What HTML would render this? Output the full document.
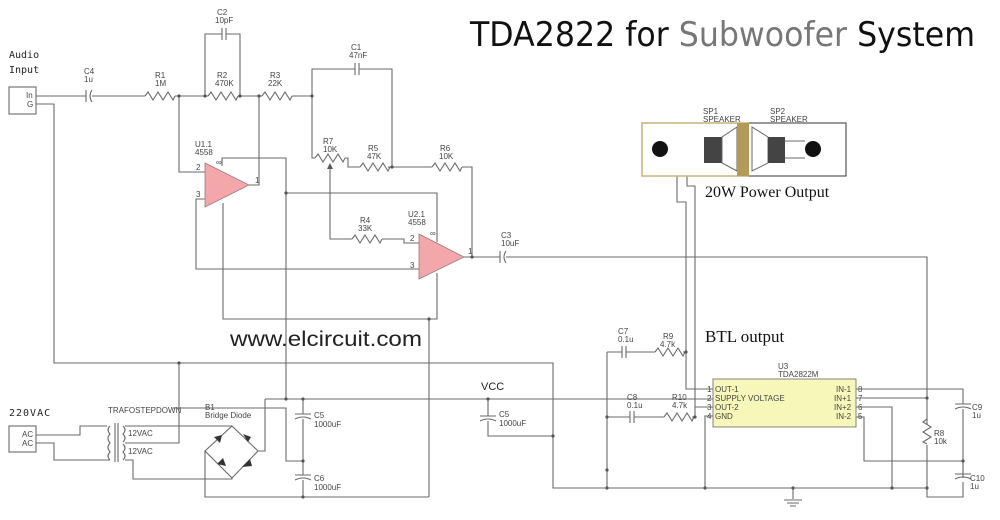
<!DOCTYPE html>
<html><head><meta charset="utf-8"><style>
html,body{margin:0;padding:0;background:#fff;width:1000px;height:520px;overflow:hidden}
svg{display:block}
.w{fill:none;stroke:#6a6a6a;stroke-width:1.1}
.t{font-family:"Liberation Sans",sans-serif;font-size:8px;fill:#444}
.d{fill:#555}
</style></head><body>
<svg width="1000" height="520" viewBox="0 0 1000 520" xmlns="http://www.w3.org/2000/svg">
<defs>
<path id="res" d="M0 0 l3 -4 l5 8 l5 -8 l5 8 l5 -8 l5 8 l2 -4" class="w"/>
<path id="resv" d="M0 0 l-4 3 l8 5 l-8 5 l8 5 l-8 5 l4 2" class="w"/>
<path id="capH" d="M0 -6 v12 M4 -6 v12" class="w"/>
<path id="capE" d="M0 -6 v12 M6 -6 q-4 6 0 12" class="w"/>
<path id="capV" d="M-8 0 h16 M-8 5 q8 -4 16 0" class="w"/>
</defs>

<!-- Title -->
<text x="470" y="46" font-family="'DejaVu Sans','Liberation Sans',sans-serif" font-size="34" textLength="505" lengthAdjust="spacingAndGlyphs" fill="#111">TDA2822 for <tspan fill="#777">Subwoofer</tspan> System</text>

<!-- Input -->
<text x="9" y="58" font-family="'DejaVu Sans Mono','Liberation Mono',monospace" font-size="10" fill="#222">Audio</text>
<text x="9" y="73" font-family="'DejaVu Sans Mono','Liberation Mono',monospace" font-size="10" fill="#222">Input</text>
<rect x="9" y="87" width="27" height="27" class="w"/>
<text x="26" y="98" class="t" font-size="7">In</text>
<text x="27" y="107" class="t" font-size="7">G</text>

<path class="w" d="M36 96 H86 M92 96 H145 M175 96 H208 M238 96 H262 M292 96 H312"/>
<use href="#capE" x="86" y="96"/>
<text x="84" y="74" class="t">C4</text><text x="84" y="82" class="t">1u</text>
<use href="#res" x="145" y="96"/>
<text x="155" y="78" class="t">R1</text><text x="155" y="86" class="t">1M</text>
<use href="#res" x="208" y="96"/>
<text x="217" y="78" class="t">R2</text><text x="215" y="86" class="t">470K</text>
<use href="#res" x="262" y="96"/>
<text x="270" y="78" class="t">R3</text><text x="268" y="86" class="t">22K</text>
<!-- C2 -->
<path class="w" d="M205 96 V34 H222 M226 34 H240 V96"/>
<use href="#capH" x="222" y="34"/>
<text x="217" y="15" class="t">C2</text><text x="215" y="23" class="t">10pF</text>
<!-- C1 -->
<path class="w" d="M312 96 V69 H355 M359 69 H392 V167"/>
<use href="#capH" x="355" y="69"/>
<text x="351" y="50" class="t">C1</text><text x="349" y="58" class="t">47nF</text>
<!-- R7 R5 R6 -->
<path class="w" d="M312 96 V158 H315 M345 158 H348 V167 H360 M388 167 H432 M462 167 H472 V257"/>
<use href="#res" x="315" y="158"/>
<text x="323" y="144" class="t">R7</text><text x="323" y="152" class="t">10K</text>
<use href="#res" x="360" y="167"/>
<text x="368" y="151" class="t">R5</text><text x="367" y="159" class="t">47K</text>
<use href="#res" x="432" y="167"/>
<text x="440" y="151" class="t">R6</text><text x="439" y="159" class="t">10K</text>
<path d="M330 163 l-3 6 h6 z" class="d"/>
<path class="w" d="M330 167 V239 H352 M382 239 H404 V243 H419"/>
<use href="#res" x="352" y="239"/>
<text x="360" y="223" class="t">R4</text><text x="358" y="231" class="t">33K</text>

<!-- U1 -->
<path class="w" d="M179 96 V172 H205 M205 199 H196 V269 H419 M249 185 H259 V96 M222 166 V158 H286 V399 M286 193 H437 V242 M223 203 V319 H437 V273 M429 319 V497"/>
<path d="M205 163 L249 185 L205 207 Z" fill="#f4a7aa" stroke="#9a7a7a" stroke-width="0.8"/>
<text x="195" y="147" class="t">U1.1</text><text x="195" y="155" class="t">4558</text>
<text x="196" y="170" class="t">2</text><text x="196" y="197" class="t">3</text><text x="255" y="183" class="t">1</text>
<text x="216" y="165" class="t" font-size="6">∞</text>
<!-- U2 -->
<path d="M419 234 L464 257 L419 279 Z" fill="#f4a7aa" stroke="#9a7a7a" stroke-width="0.8"/>
<text x="408" y="217" class="t">U2.1</text><text x="408" y="225" class="t">4558</text>
<text x="410" y="241" class="t">2</text><text x="410" y="268" class="t">3</text><text x="468" y="254" class="t">1</text>
<text x="430" y="236" class="t" font-size="6">∞</text>
<path class="w" d="M464 257 H500 M506 257 H927 V425 M927 445 V497 H963 V482 M963 478 V465"/>
<use href="#capE" x="500" y="257"/>
<text x="501" y="238" class="t">C3</text><text x="501" y="246" class="t">10uF</text>

<!-- ground / bus -->
<path class="w" d="M36 104 H54 V363 H553 V488 H927 M793 488 V499"/>
<path class="w" d="M784 500 h18 M787 503 h12 M790 506 h6"/>

<text x="230" y="346" font-family="'Liberation Sans',sans-serif" font-size="21" fill="#222" textLength="192" lengthAdjust="spacingAndGlyphs">www.elcircuit.com</text>

<!-- Power -->
<text x="9" y="416" font-family="'DejaVu Sans Mono','Liberation Mono',monospace" font-size="10" fill="#222" letter-spacing="1">220VAC</text>
<rect x="9" y="426" width="27" height="26" class="w"/>
<text x="22" y="437" class="t">AC</text><text x="22" y="446" class="t">AC</text>
<path class="w" d="M36 435 H80 V426 H107 M36 443 H54 V460 H110"/>
<path class="w" d="M110 426 q-4 4 0 8 q-4 4 0 9 q-4 4 0 9 q-4 4 0 8 M115 423 V462 M118 423 V462 M123 426 q4 4 0 8 q4 4 0 8 M123 444 q4 4 0 8 q4 4 0 8"/>
<text x="108" y="413" class="t">TRAFOSTEPDOWN</text>
<text x="128" y="436" class="t" font-size="5">12VAC</text><text x="128" y="454" class="t" font-size="5">12VAC</text>
<path class="w" d="M125 426 H232 M125 443 H179 V363 M125 460 H133 V479 H232 V478"/>
<path class="w" d="M232 426 L258 451 L232 478 L205 451 Z M258 451 H265 V399 M205 451 V497 H429 M173 408 H286 V461 H303"/>
<path d="M214 437 l8 -2 l-2 8 z M243 434 l8 3 l-3 5 z M217 464 l6 -6 l3 8 z M242 467 l8 -8 l2 7 z" fill="#333"/>
<text x="205" y="410" class="t">B1</text><text x="205" y="418" class="t">Bridge Diode</text>
<path class="w" d="M265 399 H713 M303 399 V414 M303 419 V475 M303 480 V497"/>
<use href="#capV" x="303" y="414"/><use href="#capV" x="303" y="475"/>
<text x="314" y="418" class="t">C5</text><text x="314" y="427" class="t">1000uF</text>
<text x="314" y="481" class="t">C6</text><text x="314" y="490" class="t">1000uF</text>
<text x="481" y="390" font-family="'Liberation Sans',sans-serif" font-size="11" fill="#222">VCC</text>
<path class="w" d="M488 399 V416 M488 421 V436 H553"/>
<use href="#capV" x="488" y="416"/>
<text x="499" y="417" class="t">C5</text><text x="499" y="426" class="t">1000uF</text>

<!-- U3 area -->
<path class="w" d="M607 352 V488 M607 352 H622 M626 352 H655 M683 352 H686 M713 389 H686 V202 H677 V141 H705 M713 407 H695 V186 H687 V159 H705 M607 417 H630 M634 417 H664 M692 417 H695 V407 M713 416 H705 V488"/>
<use href="#capH" x="622" y="352"/><use href="#capH" x="630" y="417"/>
<use href="#res" x="655" y="352"/><use href="#res" x="664" y="417"/>
<text x="618" y="334" class="t">C7</text><text x="618" y="342" class="t">0.1u</text>
<text x="663" y="339" class="t">R9</text><text x="660" y="347" class="t">4.7k</text>
<text x="627" y="400" class="t">C8</text><text x="627" y="408" class="t">0.1u</text>
<text x="672" y="400" class="t">R10</text><text x="672" y="408" class="t">4.7k</text>
<rect x="713" y="379" width="143" height="48" fill="#f6f7b8" stroke="#777" stroke-width="0.9"/>
<text x="778" y="369" class="t">U3</text><text x="778" y="377" class="t">TDA2822M</text>
<text x="715" y="392" class="t" fill="#999">OUT-1</text>
<text x="715" y="401" class="t" fill="#777">SUPPLY VOLTAGE</text>
<text x="715" y="410" class="t" fill="#999">OUT-2</text>
<text x="715" y="419" class="t">GND</text>
<text x="836" y="392" class="t" fill="#888">IN-1</text><text x="834" y="401" class="t" fill="#888">IN+1</text>
<text x="834" y="410" class="t" fill="#888">IN+2</text><text x="836" y="419" class="t" fill="#888">IN-2</text>
<text x="707" y="392" class="t">1</text><text x="707" y="401" class="t">2</text><text x="707" y="410" class="t">3</text><text x="707" y="419" class="t">4</text>
<text x="858" y="392" class="t">8</text><text x="858" y="401" class="t">7</text><text x="858" y="410" class="t">6</text><text x="858" y="419" class="t">5</text>
<path class="w" d="M856 389 H963 V404 M963 409 V474 M856 398 H927 M856 407 H892 V488 M856 417 H864 V461 H963"/>
<use href="#capV" x="963" y="404"/><use href="#capV" x="963" y="474"/>
<use href="#resv" x="927" y="419"/>
<text x="972" y="410" class="t">C9</text><text x="972" y="418" class="t">1u</text>
<text x="934" y="436" class="t">R8</text><text x="934" y="444" class="t">10k</text>
<text x="970" y="481" class="t">C10</text><text x="970" y="489" class="t">1u</text>

<!-- Speakers -->
<rect x="642" y="123" width="204" height="53" fill="#fff" stroke="#333" stroke-width="1"/>
<rect x="642" y="123" width="106" height="53" fill="none" stroke="#c8b27a" stroke-width="1.5"/>
<circle cx="660" cy="149" r="8" fill="#111"/>
<circle cx="813" cy="149" r="8" fill="#111"/>
<rect x="704" y="137" width="18" height="26" fill="#444"/>
<path d="M722 137 L737 127 V171 L722 163 Z" fill="#fff" stroke="#666"/>
<rect x="737" y="123" width="12" height="53" fill="#b39a55"/>
<path d="M768 137 L752 127 V171 L768 163 Z" fill="#fff" stroke="#666"/>
<rect x="768" y="137" width="17" height="26" fill="#444"/>
<path class="w" d="M785 141 H805 M785 158 H805"/>
<text x="703" y="114" class="t">SP1</text><text x="703" y="122" class="t">SPEAKER</text>
<text x="770" y="114" class="t">SP2</text><text x="770" y="122" class="t">SPEAKER</text>
<text x="705" y="197" font-family="'Liberation Serif',serif" font-size="16" fill="#111">20W Power Output</text>
<text x="705" y="342" font-family="'Liberation Serif',serif" font-size="17" fill="#111">BTL output</text>

<!-- nodes -->
<g class="d">
<circle cx="179" cy="96" r="1.6"/><circle cx="205" cy="96" r="1.6"/><circle cx="240" cy="96" r="1.6"/><circle cx="259" cy="96" r="1.6"/><circle cx="312" cy="96" r="1.6"/>
<circle cx="392" cy="167" r="1.6"/><circle cx="472" cy="257" r="1.6"/><circle cx="286" cy="193" r="1.6"/><circle cx="429" cy="319" r="1.6"/>
<circle cx="179" cy="363" r="1.6"/><circle cx="286" cy="399" r="1.6"/><circle cx="303" cy="399" r="1.6"/><circle cx="303" cy="461" r="1.6"/><circle cx="303" cy="497" r="1.6"/>
<circle cx="553" cy="436" r="1.6"/><circle cx="488" cy="399" r="1.6"/><circle cx="607" cy="417" r="1.6"/><circle cx="607" cy="470" r="1.6"/>
<circle cx="686" cy="352" r="1.6"/><circle cx="695" cy="417" r="1.6"/><circle cx="705" cy="488" r="1.6"/><circle cx="607" cy="488" r="1.6"/>
<circle cx="793" cy="488" r="1.6"/><circle cx="892" cy="488" r="1.6"/><circle cx="927" cy="488" r="1.6"/><circle cx="927" cy="398" r="1.6"/><circle cx="963" cy="461" r="1.6"/>
</g>
</svg>
</body></html>
